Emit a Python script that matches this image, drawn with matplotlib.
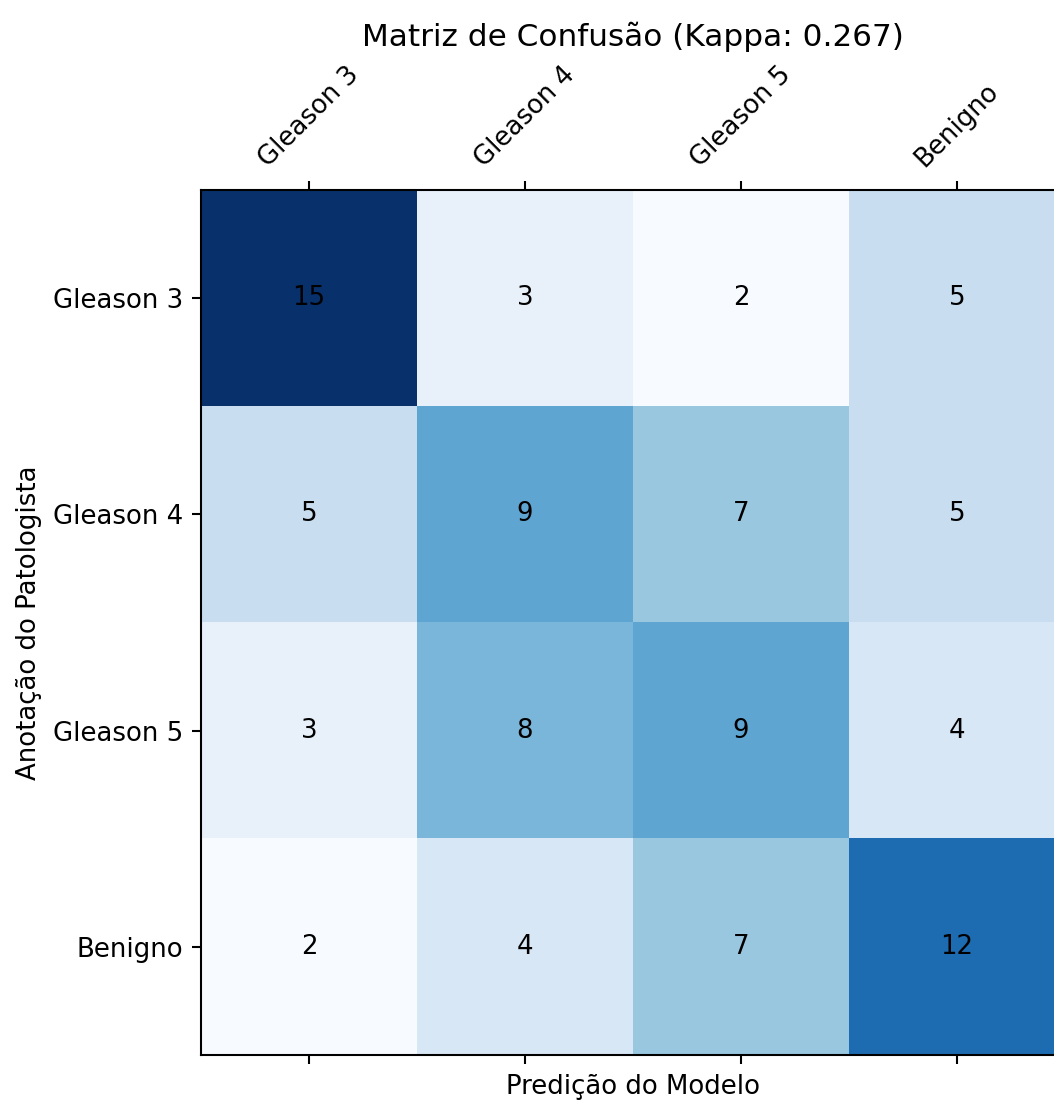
import numpy as np
import matplotlib
matplotlib.use("Agg")
import matplotlib.pyplot as plt

# confusion matrix values (rows: pathologist, cols: model)
classes = ['Gleason 3', 'Gleason 4', 'Gleason 5', 'Benigno']
row_g3 = [15, 3, 2, 5]
row_g4 = [5, 9, 7, 5]
row_g5 = [3, 8, 9, 4]
row_ben = [2, 4, 7, 12]
kappa = 0.267

cm = np.array([row_g3, row_g4, row_g5, row_ben])

DPI = 187
fig = plt.figure(figsize=(1054 / DPI, 1100 / DPI), dpi=DPI)
# axes runs a bit past the right edge, as in the reference
ax = fig.add_axes([201 / 1054, 45 / 1100, 864 / 1054, 865 / 1100])

ax.imshow(cm, cmap='Blues', interpolation='nearest', aspect='auto')

for i in range(cm.shape[0]):
	for j in range(cm.shape[1]):
		ax.text(j, i, str(cm[i, j]), ha='center', va='center', color='black')

ax.set_xticks(range(len(classes)))
ax.set_yticks(range(len(classes)))
ax.set_xticklabels(classes, rotation=45)
ax.set_yticklabels(classes)
ax.tick_params(top=True, labeltop=True, bottom=True, labelbottom=False)

ax.set_title('Matriz de Confusão (Kappa: %.3f)' % kappa)
ax.set_xlabel('Predição do Modelo')
ax.set_ylabel('Anotação do Patologista')

fig.savefig('out.png', dpi=DPI)
